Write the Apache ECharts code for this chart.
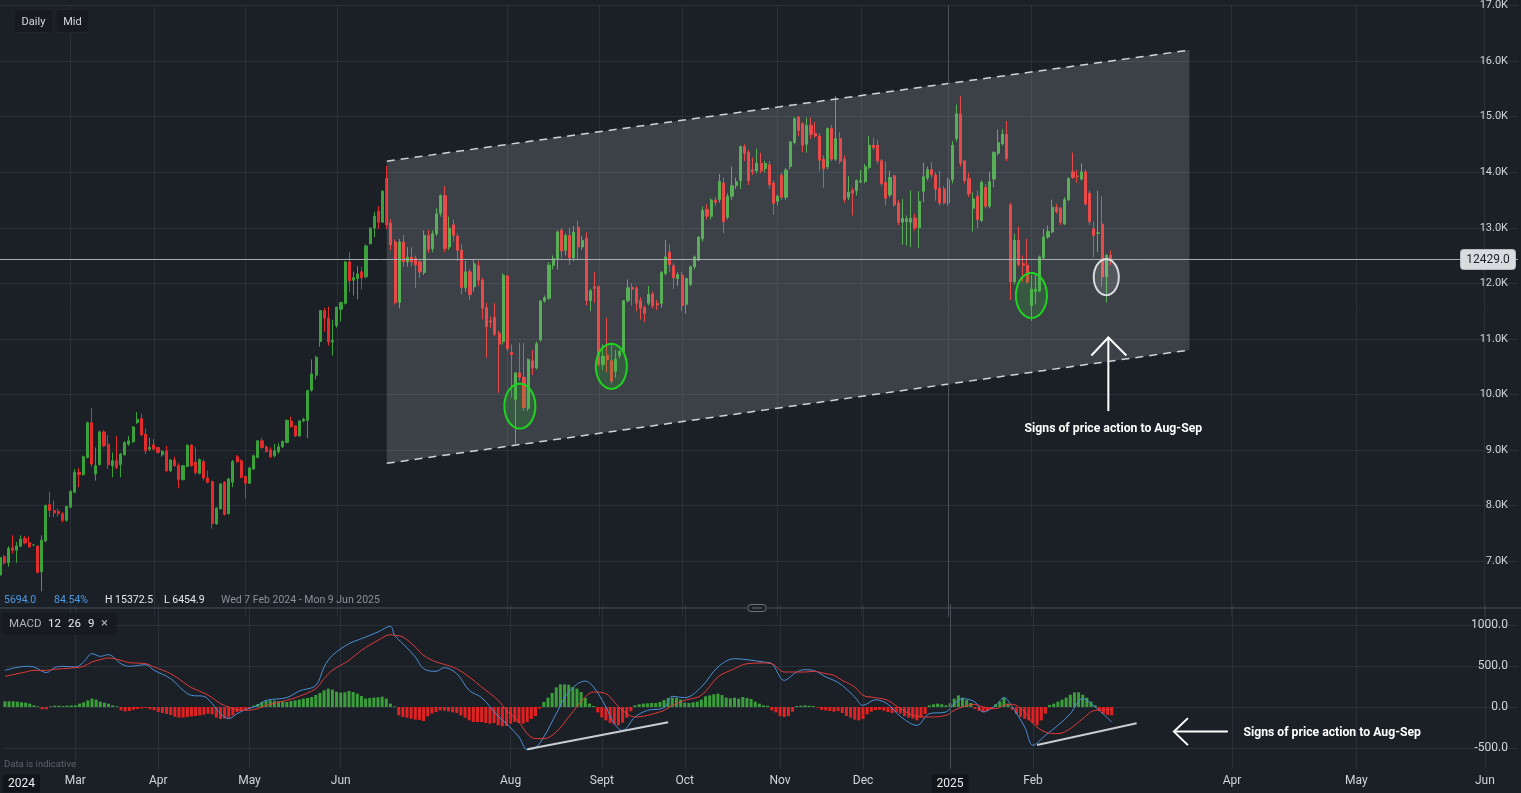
<!DOCTYPE html>
<html><head><meta charset="utf-8">
<script src="https://cdn.jsdelivr.net/npm/echarts@6.0.0/dist/echarts.min.js"></script>
<style>html,body{margin:0;padding:0;background:#1b2027;overflow:hidden}#c{width:1521px;height:793px}</style>
</head><body><div id="c"></div><script>
// ---------- DATA ----------
const holidays = ['2024-02-19','2024-03-29','2024-05-27','2024-06-19','2024-07-04','2024-09-02',
  '2024-11-28','2024-12-25','2025-01-01','2025-01-09','2025-01-20','2025-02-17'];
const firstDay = '2024-02-06', lastDay = '2025-03-03', axisEnd = '2025-06-09';

// daily candles [open, high, low, close]
const ohlc = [
[6750,7100,6700,7066],[7078,7110,6940,6970],[6970,7270,6900,7227],[7239,7465,7140,7197],[7197,7346,6970,7274],
[7269,7465,7250,7394],[7406,7453,7300,7328],[7334,7447,7240,7257],[7290,7300,7280,7290],[7268,7290,6780,6797],
[6810,7465,6455,7376],[7364,8020,7340,8002],[8020,8250,7790,7913],[7913,8090,7790,7865],[7900,7950,7800,7853],
[7853,7880,7700,7734],[7734,8000,7710,7984],[7972,8270,7950,8258],[8240,8660,8220,8598],[8598,8676,8330,8557],
[8557,8900,8540,8878],[8866,9510,8850,9492],[9492,9761,8700,8747],[8568,9045,8450,8717],[8735,9350,8720,9326],
[9326,9356,9050,9075],[9105,9266,8658,8735],[8717,8956,8510,8807],[8807,9254,8658,8688],[8735,8950,8510,8926],
[8914,9160,8900,9135],[9105,9254,9075,9165],[9147,9430,9130,9415],[9493,9683,9470,9552],[9564,9654,9250,9272],
[9284,9385,8926,8986],[9015,9224,8980,9045],[9093,9200,8990,9016],[9045,9050,8930,8956],[8914,9000,8880,8974],
[8986,9075,8600,8628],[8628,8840,8600,8819],[8819,8879,8700,8717],[8717,8760,8312,8467],[8467,8730,8450,8717],
[8706,9100,8690,9087],[9087,9105,8700,8717],[8780,9050,8560,8590],[8580,8850,8560,8825],[8789,8830,8449,8497],
[8497,8628,8400,8420],[8431,8450,7585,7674],[7674,7970,7650,7954],[7942,8400,7930,8390],[8419,8440,7820,7841],
[7853,8500,7840,8479],[8419,8820,8330,8789],[8878,8910,8770,8789],[8807,8830,8490,8509],[8521,8540,8133,8401],
[8401,8700,8390,8676],[8658,8920,8640,8896],[8866,9180,8850,9165],[9165,9220,9020,9045],[9057,9080,8950,8974],
[9004,9050,8850,8878],[8896,9110,8870,8986],[8974,9120,8930,9057],[9057,9170,9040,9153],[9135,9550,9120,9534],
[9522,9600,9400,9421],[9433,9450,9230,9254],[9254,9540,9240,9522],[9522,9580,9500,9552],[9534,10080,9212,10071],
[10077,10630,10050,10370],[10346,10700,10270,10668],[10954,11520,10860,11509],[11509,11560,11130,11372],[11372,11580,10880,10942],
[10942,11340,10700,10972],[11240,11580,11200,11568],[11532,11670,11310,11652],[11640,12400,11620,12385],[12385,12560,11850,12045],
[12057,12210,11780,12099],[12087,12310,11710,12170],[12206,12300,11890,12099],[12117,12700,12090,12672],[12713,13010,12700,12993],
[12993,13290,12830,13208],[13298,13390,12980,13101],[13101,13680,13090,13655],[13888,14114,12980,13050],[13083,13150,12600,12695],
[12743,12790,11620,11658],[11658,12800,11550,12743],[12743,12870,12300,12385],[12385,12650,12300,12469],[12469,12650,12300,12385],
[12450,12500,11910,12330],[12385,12420,12100,12206],[12194,12950,12150,12862],[12862,12960,12550,12606],[12624,12950,12560,12892],
[12892,13350,12850,13250],[13260,13600,13200,13578],[13578,13750,12560,12624],[12654,13200,12600,12993],[13053,13150,12750,12862],
[12850,12900,12400,12594],[12594,12700,11800,11926],[11926,12400,11850,12206],[12206,12260,11700,11801],[11938,12420,11850,12350],
[12314,12400,11950,12057],[12057,12100,11350,11550],[11562,11650,10660,11222],[11324,11400,11200,11300],[11383,11640,11050,11085],
[11103,11150,10030,10906],[10954,12180,10900,12147],[12135,12150,10780,10823],[10757,10900,9940,10716],[9911,10400,9106,10388],
[10388,10930,10250,10310],[10310,10930,9700,9762],[9750,10650,9700,10626],[10608,10800,10350,10477],[10477,10950,10450,10912],
[10984,11700,10950,11682],[11682,11780,11650,11741],[11730,12380,11700,12326],[12326,12500,12250,12445],[12433,12960,12250,12922],
[12952,13000,12450,12582],[12594,12900,12500,12862],[12862,13000,12330,12457],[12457,13030,12400,12922],[13011,13130,12430,12654],
[12654,12850,12600,12773],[12814,12920,11600,11688],[11688,11900,11500,11866],[11938,12206,11650,11908],[11938,11960,10500,10537],
[10537,10900,10450,10686],[10704,11380,10400,10626],[10608,10900,10180,10239],[10416,10800,10300,10638],[10698,10800,10650,10775],
[10775,11700,10750,11688],[11688,12070,11650,11920],[11926,12000,11600,11896],[11908,11950,11500,11640],[11688,11750,11350,11550],
[11562,11600,11300,11461],[11640,11950,11600,11801],[11807,11850,11550,11598],[11640,11700,11520,11610],[11640,12220,11560,12194],
[12177,12780,12150,12475],[12564,12700,12200,12338],[12314,12360,11900,12099],[12087,12200,11950,12158],[12147,12200,11500,11598],
[11622,12100,11450,12087],[11980,12320,11950,12296],[12296,12500,12250,12475],[12415,12850,12400,12832],[12803,13380,12750,13310],
[13328,13420,13150,13208],[13208,13530,13150,13500],[13500,13550,13400,13459],[13506,13965,13450,13834],[13804,13900,12900,13112],
[13190,13620,13150,13566],[13566,14102,13500,13757],[13757,13900,13700,13828],[13846,14480,13700,14460],[14460,14500,14200,14341],
[14353,14400,13770,13846],[14043,14263,13950,14007],[14025,14424,13980,14162],[14162,14350,13980,14025],[14067,14200,14000,14156],
[14132,14200,13700,13774],[13804,13850,13230,13440],[13476,13600,13400,13566],[13947,13990,13500,13548],[13548,14080,13500,14037],
[14102,14560,14050,14544],[14532,14990,14500,14961],[14991,15010,14650,14752],[14872,14900,14360,14484],[14502,14980,14350,14842],
[14842,14980,14600,14681],[14698,14900,14620,14651],[14651,14700,14020,14216],[14234,14300,13720,14067],[14097,14800,14050,14788],
[14788,14850,14200,14234],[14234,15372,14200,14603],[14603,14720,14150,14198],[14234,14300,13450,13506],[13548,13930,13500,13637],
[13667,13720,13220,13620],[13667,13870,13580,13846],[13830,14040,13800,13845],[13834,14150,13800,14102],[14085,14650,14050,14484],
[14484,14620,14400,14442],[14484,14580,14150,14204],[14204,14240,13750,13798],[13816,14190,13400,13530],[13590,14025,13550,13906],
[13936,13950,13380,13411],[13446,13500,13050,13100],[13100,13520,12695,13172],[13112,13220,12680,13160],[13100,13670,12650,13172],
[13172,13250,12950,12999],[12999,13660,12635,13476],[13655,14174,13460,13917],[13894,14100,13850,14043],[14043,14186,13900,13953],
[13947,14000,13488,13697],[13709,14025,13400,13446],[13700,13750,13420,13446],[13446,13900,13400,13858],[13864,14560,13800,14484],
[14603,15217,14550,15050],[15050,15366,14100,14162],[14204,14210,13800,13846],[13888,13990,13550,13608],[13351,13637,12934,13518],
[13566,13668,12990,13148],[13130,13850,13100,13816],[13727,13790,13350,13387],[13387,14007,13350,13828],[13876,14380,13727,14353],
[14341,14770,14300,14532],[14514,14770,14480,14681],[14681,14920,14200,14246],[13411,13450,11700,12027],[12027,12890,11980,12773],
[12773,13020,12300,12337],[12355,12500,12027,12326],[12326,12800,12000,12027],[11598,12147,11324,11896],[11850,12147,11622,11896],
[11860,12500,11840,12475],[12457,12980,12430,12832],[12832,13040,12800,12934],[12922,13506,12900,13370],[13370,13430,13250,13291],
[13351,13370,13050,13100],[13070,13550,13050,13506],[13506,13905,13480,13888],[14007,14353,13880,13906],[13930,14040,13810,13925],
[13876,14156,13850,14007],[14007,14050,13400,13428],[13620,13670,13050,13112],[12981,13112,12475,12862],[12900,13667,12564,12910],
[13065,13566,11940,12117],[12117,12530,11651,12504],[12510,12594,12330,12429]
];

// MACD(12,26,9): [bar index, value]
const macdLine = [[0,447],[5,496],[7,488],[10,419],[12,480],[14,496],[17,488],[19,549],[21,650],[23,618],[25,638],[28,528],[30,496],[34,516],[36,447],[40,346],[43,203],[45,142],[48,130],[50,41],[52,-81],[54,-142],[56,-81],[58,-33],[61,20],[63,81],[68,114],[71,195],[75,264],[77,488],[79,630],[83,772],[86,833],[90,915],[93,984],[94,874],[96,772],[99,610],[101,467],[104,435],[106,480],[109,407],[112,203],[115,114],[119,-114],[121,-203],[124,-366],[126,-520],[128,-496],[130,-366],[133,-81],[136,183],[140,317],[142,244],[145,0],[147,-203],[149,-285],[152,-122],[155,-41],[159,-8],[161,130],[164,114],[168,244],[172,488],[176,589],[179,577],[183,549],[185,528],[188,325],[191,427],[193,455],[195,447],[198,366],[200,325],[202,264],[205,122],[207,20],[210,89],[213,33],[216,-114],[220,-224],[223,-81],[227,-61],[229,41],[231,102],[234,61],[236,-61],[239,20],[241,114],[243,0],[246,-244],[248,-467],[251,-346],[254,-224],[257,-81],[260,102],[263,0],[267,-183]];
const signalLine = [[0,374],[5,427],[7,447],[10,447],[12,459],[14,467],[17,480],[19,496],[21,549],[23,577],[25,598],[28,569],[30,541],[34,528],[36,488],[40,407],[43,305],[45,236],[48,171],[50,114],[52,41],[54,0],[56,-33],[58,-41],[61,-20],[63,20],[68,81],[71,130],[75,224],[77,346],[79,447],[83,569],[86,691],[90,813],[93,882],[94,874],[96,854],[99,732],[101,630],[104,549],[106,520],[109,467],[112,366],[115,244],[119,81],[121,-41],[124,-183],[126,-325],[128,-386],[130,-386],[133,-305],[136,-122],[140,122],[142,183],[145,163],[147,61],[149,-41],[152,-122],[155,-102],[159,-41],[161,20],[164,81],[168,142],[172,366],[176,467],[179,528],[183,537],[185,528],[188,427],[191,427],[193,427],[195,435],[198,407],[200,386],[202,325],[205,244],[207,142],[210,114],[213,81],[216,-20],[220,-114],[223,-122],[227,-102],[229,-41],[231,0],[234,33],[236,0],[239,-20],[241,20],[243,33],[246,-61],[248,-203],[251,-305],[254,-325],[257,-264],[260,-142],[263,-41],[267,-33]];
const histogram = [69,69,69,65,57,53,41,20,8,-28,
-28,8,16,16,12,16,20,20,41,57,
81,102,90,65,53,41,20,8,-41,-53,
-49,-33,-24,-16,-12,-28,-41,-61,-73,-85,
-98,-118,-130,-130,-122,-114,-110,-102,-94,-81,
-90,-130,-146,-138,-130,-102,-61,-49,-33,-12,
16,37,61,73,81,77,69,65,61,73,
81,90,102,110,122,146,171,203,224,212,
187,175,179,195,183,163,134,102,110,114,
118,126,102,41,8,-102,-122,-130,-142,-154,
-158,-171,-114,-81,-61,-41,-45,-53,-65,-73,
-102,-130,-163,-183,-183,-183,-195,-203,-195,-224,
-236,-232,-203,-183,-195,-203,-183,-146,-110,-20,
61,114,171,240,276,276,272,244,224,183,
110,41,12,-65,-126,-163,-195,-212,-224,-191,
-130,-53,20,33,41,45,49,49,61,85,
110,114,114,90,53,49,57,65,90,130,
142,154,163,146,114,106,114,102,122,110,
98,65,41,20,16,-41,-65,-110,-122,-110,
-57,12,16,20,16,12,-8,-33,-41,-49,
-57,-49,-73,-110,-130,-154,-163,-146,-90,-57,
-37,-33,-45,-61,-73,-65,-81,-110,-130,-142,
-163,-130,-85,20,33,41,33,20,45,102,
142,114,85,49,-24,-49,-61,-49,-28,33,
65,114,41,-33,-85,-122,-146,-163,-195,-224,
-163,-81,24,41,65,90,114,150,179,179,
150,114,65,20,-49,-81,-97,-102];

// drawn annotations (bar index, price / macd value)
const channelTop = [[93,14199],[286,16197]];
const channelBottom = [[93,8760],[286,10800]];
const macdTrend1 = [[126,-516],[160,-187]];
const macdTrend2 = [[249,-463],[273,-199]];
const greenCircles = [[125,9790],[147,10506],[248,11782]];
const whiteCircle = [266,12111];
const priceArrow = {idx:266.5, tip:11025, base:9701};
const macdArrow = {tipIdx:282, tailIdx:295, textIdx:299, value:-300};
const noteText = 'Signs of price action to Aug-Sep';

// tick labels
const tickLabels = {'2024-02-12':'2024','2024-03-01':'Mar','2024-04-01':'Apr','2024-05-01':'May','2024-06-03':'Jun',
  '2024-08-01':'Aug','2024-09-03':'Sept','2024-10-01':'Oct','2024-11-01':'Nov','2024-12-02':'Dec','2025-01-02':'2025',
  '2025-02-03':'Feb','2025-04-01':'Apr','2025-05-01':'May','2025-06-01':'Jun'};
const yearLineDate = '2025-01-02';
const info = {change:'5694.0', pct:'84.54%', high:'H 15372.5', low:'L 6454.9', range:'Wed 7 Feb 2024 - Mon 9 Jun 2025'};

// ---------- build categories ----------
function dayList(start, end, tradingOnly) {
  const out = [], hs = new Set(holidays);
  for (let t = Date.parse(start); t <= Date.parse(end); t += 86400000) {
    const d = new Date(t), s = d.toISOString().slice(0, 10), w = d.getUTCDay();
    if (!tradingOnly || (w !== 0 && w !== 6 && !hs.has(s))) out.push(s);
  }
  return out;
}
const past = dayList(firstDay, lastDay, true);
const nextDay = new Date(Date.parse(lastDay) + 86400000).toISOString().slice(0, 10);
const dates = past.concat(dayList(nextDay, axisEnd, false));

// ---------- style ----------
const BG = '#1b2027', GRID = '#2a3038', UP = '#3ba23b', DOWN = '#e42a2a';
const LBL = '#d1d4d9', FONT = 'Roboto, "Noto Sans", sans-serif';
const gridSet = new Set(Object.keys(tickLabels).filter(k => !/^\d{4}$/.test(tickLabels[k]) || k.startsWith('2025')));
const lastClose = ohlc[ohlc.length - 1][3];

const chart = echarts.init(document.getElementById('c'));
const xCommon = (gi, showLabel) => ({
  type: 'category', gridIndex: gi, data: dates, boundaryGap: false,
  axisLine: {show: false}, axisTick: {show: false},
  axisLabel: showLabel ? {
    interval: (i, v) => tickLabels[v] !== undefined,
    formatter: v => { const t = tickLabels[v]; if (!t) return ''; return /^\d{4}$/.test(t) ? '{yr|' + t + '}' : t; },
    color: LBL, fontSize: 12, fontFamily: FONT, margin: 6,
    rich: {yr: {backgroundColor: '#111418', color: '#eceef1', padding: [3, 5, 3, 5], fontSize: 12, fontFamily: FONT}}
  } : {show: false},
  splitLine: {show: true, interval: (i, v) => gridSet.has(v), lineStyle: {color: GRID, width: 1}}
});
const mainLineColors = [BG]; for (let k = 0; k < 11; k++) mainLineColors.push(GRID);

const option = {
  backgroundColor: BG, animation: false,
  grid: [{left: 0, top: 1.2, width: 1518, height: 615.5}, {left: 0, top: 604.5, width: 1518, height: 164}],
  xAxis: [xCommon(0, false), xCommon(1, true)],
  yAxis: [
    {type: 'value', gridIndex: 0, position: 'right', min: 6000, max: 17000, interval: 1000,
     axisLine: {show: false}, axisTick: {show: false},
     axisLabel: {inside: true, margin: 10, color: LBL, fontSize: 11, fontFamily: FONT, showMinLabel: false,
       formatter: v => (v / 1000).toFixed(1) + 'K'},
     splitLine: {lineStyle: {color: mainLineColors}}},
    {type: 'value', gridIndex: 1, position: 'right', min: -750, max: 1250, interval: 250,
     axisLine: {show: false}, axisTick: {show: false},
     axisLabel: {inside: true, margin: 10, color: LBL, fontSize: 12, fontFamily: FONT,
       formatter: v => (v % 500 === 0 && v > -750) ? v.toFixed(1) : ''},
     splitLine: {lineStyle: {color: ['rgba(0,0,0,0)', GRID]}}}
  ],
  series: [
    {type: 'candlestick', xAxisIndex: 0, yAxisIndex: 0, z: 2, barWidth: 2.6,
     data: ohlc.map(r => [r[0], r[3], r[2], r[1]]),
     itemStyle: {color: UP, color0: DOWN, borderColor: UP, borderColor0: DOWN, borderWidth: 1},
     markLine: {silent: true, symbol: 'none', label: {show: false},
       lineStyle: {color: '#4a5159', type: 'solid', width: 1}, data: [{xAxis: yearLineDate}]}},
    {type: 'custom', xAxisIndex: 0, yAxisIndex: 0, z: 3, silent: true, data: [[0, 10000]],
     renderItem: (p, api) => ({type: 'polygon',
       shape: {points: [api.coord(channelTop[0]), api.coord(channelTop[1]), api.coord(channelBottom[1]), api.coord(channelBottom[0])]},
       style: {fill: 'rgba(255,255,255,0.15)'}})},
    {type: 'line', xAxisIndex: 0, yAxisIndex: 0, z: 4, silent: true, data: channelTop, showSymbol: false, symbol: 'none',
     lineStyle: {color: '#cfd3d8', width: 1.5, type: [8, 6]}},
    {type: 'line', xAxisIndex: 0, yAxisIndex: 0, z: 4, silent: true, data: channelBottom, showSymbol: false, symbol: 'none',
     lineStyle: {color: '#cfd3d8', width: 1.5, type: [8, 6]}},
    {type: 'line', xAxisIndex: 0, yAxisIndex: 0, z: 5, silent: true, data: [[0, lastClose], [dates.length - 1, lastClose]],
     showSymbol: false, symbol: 'none', lineStyle: {color: '#a9aeb4', width: 1}},
    {type: 'bar', xAxisIndex: 1, yAxisIndex: 1, barWidth: 3, silent: true,
     data: histogram.map(v => ({value: v, itemStyle: {color: v >= 0 ? '#3a9f3a' : '#e02222'}})),
     markLine: {silent: true, symbol: 'none', label: {show: false},
       lineStyle: {color: '#4a5159', type: 'solid', width: 1}, data: [{xAxis: yearLineDate}]}},
    {type: 'line', xAxisIndex: 1, yAxisIndex: 1, data: macdLine, smooth: 0.35, showSymbol: false, symbol: 'none',
     lineStyle: {color: '#4b8fd6', width: 1}, z: 4},
    {type: 'line', xAxisIndex: 1, yAxisIndex: 1, data: signalLine, smooth: 0.35, showSymbol: false, symbol: 'none',
     lineStyle: {color: '#e03a3a', width: 1}, z: 4},
    {type: 'line', xAxisIndex: 1, yAxisIndex: 1, data: macdTrend1, showSymbol: false, symbol: 'none',
     lineStyle: {color: '#c9cdd2', width: 2}, z: 5},
    {type: 'line', xAxisIndex: 1, yAxisIndex: 1, data: macdTrend2, showSymbol: false, symbol: 'none',
     lineStyle: {color: '#c9cdd2', width: 2}, z: 5}
  ]
};
chart.setOption(option);

// ---------- annotations ----------
const P = (g, i, v) => {
  const a = chart.convertToPixel({gridIndex: g}, [Math.floor(i), v]);
  if (i % 1) { const b = chart.convertToPixel({gridIndex: g}, [Math.ceil(i), v]); a[0] += (b[0] - a[0]) * (i % 1); }
  return a;
};
function ellipse(c, rx, ry, stroke, fill) {
  const pts = [];
  for (let k = 0; k < 60; k++) { const a = k / 60 * Math.PI * 2; pts.push([c[0] + rx * Math.cos(a), c[1] + ry * Math.sin(a)]); }
  return {type: 'polygon', z: 100, shape: {points: pts}, style: {stroke, fill, lineWidth: 2}};
}
const txt = (x, y, text, fill, size, extra, props) => Object.assign({type: 'text', z: 130, x, y,
  style: Object.assign({text, fill, fontSize: size, fontFamily: FONT, align: 'left', verticalAlign: 'middle'}, extra || {})}, props || {});

const g = [];
// top-left buttons
g.push({type: 'rect', z: 100, shape: {x: 14, y: 9.5, width: 39, height: 23, r: 2}, style: {fill: '#171b20', stroke: '#20252b'}});
g.push({type: 'rect', z: 100, shape: {x: 56, y: 9.5, width: 33, height: 23, r: 2}, style: {fill: '#171b20', stroke: '#20252b'}});
g.push(txt(33.5, 22, 'Daily', '#d6d9de', 11, {align: 'center'}));
g.push(txt(72.5, 22, 'Mid', '#d6d9de', 11, {align: 'center'}));
// info row
g.push(txt(4, 600, info.change, '#4c9be8', 10.5));
g.push(txt(54, 600, info.pct, '#4c9be8', 10.5));
g.push(txt(105, 600, info.high, '#e6e8eb', 10.5));
g.push(txt(164, 600, info.low, '#e6e8eb', 10.5));
g.push(txt(221, 600, info.range, '#8a9098', 10.5));
// pane separator
g.push({type: 'line', z: 100, shape: {x1: 0, y1: 608, x2: 1521, y2: 608}, style: {stroke: '#4a5058', lineWidth: 1}});
g.push({type: 'rect', z: 101, shape: {x: 748, y: 604.5, width: 18, height: 7, r: 3}, style: {fill: BG, stroke: '#6b7178'}});
g.push({type: 'line', z: 102, shape: {x1: 752, y1: 608, x2: 762, y2: 608}, style: {stroke: '#6b7178', lineWidth: 1}});
// MACD header
g.push({type: 'rect', z: 100, shape: {x: 2, y: 613, width: 115, height: 22, r: 2}, style: {fill: '#171a1f'}});
g.push(txt(9, 624, 'MACD', '#aeb3b9', 11.5));
g.push(txt(48, 624, '12', '#eceef1', 11.5));
g.push(txt(68, 624, '26', '#eceef1', 11.5));
g.push(txt(88, 624, '9', '#eceef1', 11.5));
g.push(txt(101, 624, '×', '#aeb3b9', 13));
g.push(txt(4, 765, 'Data is indicative', '#5d636b', 9.5));
// price tag
const pTag = P(0, 0, lastClose);
g.push({type: 'rect', z: 120, shape: {x: 1460.5, y: pTag[1] - 10, width: 55, height: 20, r: 3}, style: {fill: '#d9dcdf', stroke: '#b8bcc1'}});
g.push(txt(1488, pTag[1] + 0.5, lastClose.toFixed(1), '#1c2026', 12, {align: 'center'}));
// circles
greenCircles.forEach(c => g.push(ellipse(P(0, c[0], c[1]), 15.5, 22.5, '#1fd41f', 'rgba(40,200,40,0.18)')));
g.push(ellipse(P(0, whiteCircle[0], whiteCircle[1]), 12.5, 18, '#d9dcdf', 'rgba(255,255,255,0.12)'));
// up arrow + text
const aTip = P(0, priceArrow.idx, priceArrow.tip), aBase = P(0, priceArrow.idx, priceArrow.base);
g.push({type: 'line', z: 105, shape: {x1: aTip[0], y1: aTip[1], x2: aBase[0], y2: aBase[1]}, style: {stroke: '#ffffff', lineWidth: 2}});
g.push({type: 'polyline', z: 105, shape: {points: [[aTip[0] - 17, aTip[1] + 18], [aTip[0], aTip[1]], [aTip[0] + 18, aTip[1] + 18]]},
  style: {stroke: '#ffffff', lineWidth: 2, fill: null}});
g.push(txt(aBase[0] + 5, aBase[1] + 18, noteText, '#ffffff', 13, {align: 'center', fontWeight: 'bold'}, {scaleX: 0.94}));
// left arrow in MACD pane + text
const mTip = P(1, macdArrow.tipIdx, macdArrow.value), mTail = P(1, macdArrow.tailIdx, macdArrow.value), mTxt = P(1, macdArrow.textIdx, macdArrow.value);
g.push({type: 'line', z: 105, shape: {x1: mTip[0], y1: mTip[1], x2: mTail[0], y2: mTail[1]}, style: {stroke: '#ffffff', lineWidth: 2}});
g.push({type: 'polyline', z: 105, shape: {points: [[mTip[0] + 14, mTip[1] - 13.5], [mTip[0], mTip[1]], [mTip[0] + 14, mTip[1] + 13.5]]},
  style: {stroke: '#ffffff', lineWidth: 2, fill: null}});
g.push(txt(mTxt[0] - 1, mTxt[1] + 1, noteText, '#ffffff', 13, {fontWeight: 'bold'}, {scaleX: 0.94}));

chart.setOption({graphic: g});
</script></body></html>
